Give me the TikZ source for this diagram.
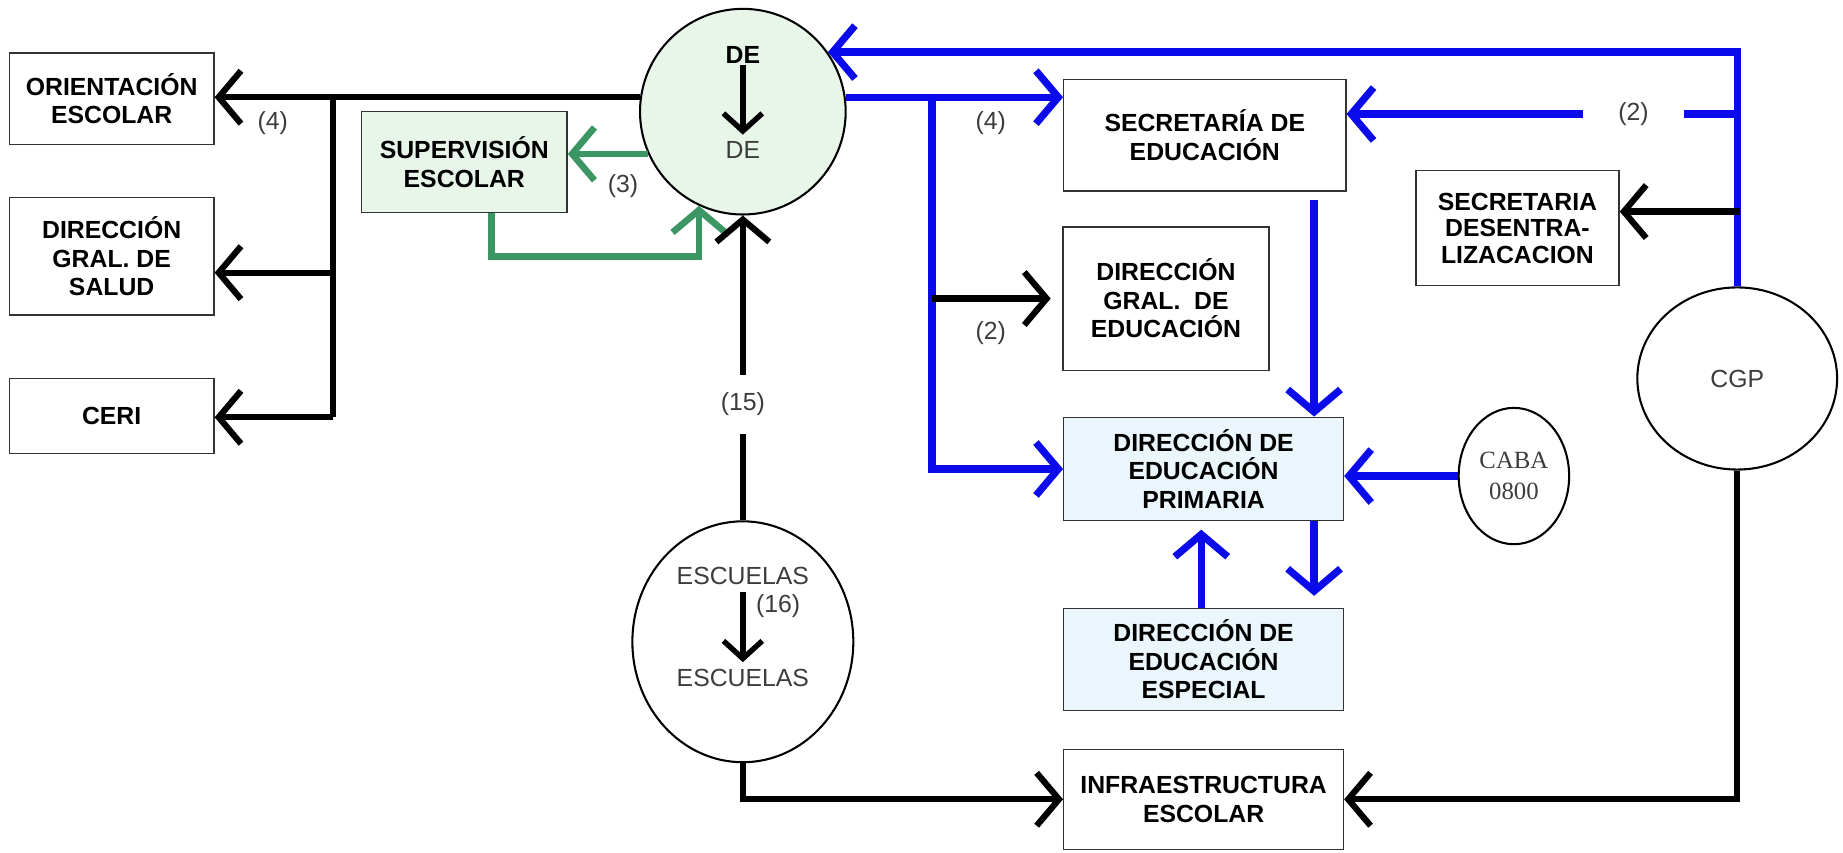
\documentclass[tikz,border=0pt]{standalone}
\usepackage{fontspec}
\setmainfont{Liberation Sans}
\newfontfamily\cabafont{Liberation Serif}
\usetikzlibrary{arrows.meta,shapes.geometric}
\definecolor{azul}{RGB}{10,10,235}
\definecolor{verde}{RGB}{60,150,100}
\definecolor{verdeclaro}{RGB}{232,246,234}
\definecolor{celeste}{RGB}{234,245,252}
\definecolor{gris}{RGB}{60,60,60}

\begin{document}
\begin{tikzpicture}[x=0.02cm,y=-0.02cm,
    caja/.style={draw=black!80,line width=0.7pt,align=center,inner sep=0pt,
      font=\fontsize{12}{13.8}\selectfont\bfseries},
    rotulo/.style={font=\fontsize{12}{13.5}\selectfont,text=gris},
    globo/.style={draw,ellipse,line width=1pt,inner sep=0pt},
    flecha/.style={-{Straight Barb[length=0.38cm,width=0.9cm]}},
    negra/.style={flecha,line width=3pt,black},
    azulada/.style={flecha,line width=3.5pt,azul},
    verdosa/.style={flecha,line width=3.2pt,verde},
    interna/.style={-{Straight Barb[length=0.3cm,width=0.66cm]},line width=2.6pt,black}]
    \useasboundingbox (0,0) rectangle (1568,725);

    \node[caja,minimum width=3.48cm,minimum height=1.56cm] (orient) at (95,84) {ORIENTACIÓN\\ESCOLAR};
    \node[caja,minimum width=3.48cm,minimum height=2cm] (salud) at (95,218) {DIRECCIÓN\\GRAL. DE\\SALUD};
    \node[caja,minimum width=3.48cm,minimum height=1.28cm] (ceri) at (95,354) {CERI};
    \node[caja,fill=verdeclaro,minimum width=3.5cm,minimum height=1.72cm] (superv) at (395,138) {SUPERVISIÓN\\ESCOLAR};
    \node[draw,circle,line width=1pt,fill=verdeclaro,minimum size=3.5cm] (de) at (632,95) {};
    \node[caja,minimum width=4.8cm,minimum height=1.9cm] (secedu) at (1025,115) {SECRETARÍA DE\\EDUCACIÓN};
    \node[caja,minimum width=3.5cm,minimum height=2.44cm] (dgedu) at (992,254) {DIRECCIÓN\\GRAL.\ \ DE\\EDUCACIÓN};
    \node[caja,font=\fontsize{12}{12.8}\selectfont\bfseries,minimum width=3.46cm,minimum height=1.96cm] (secdes) at (1291,194) {SECRETARIA\\DESENTRA-\\LIZACACION};
    \node[globo,rotulo,minimum width=3.4cm,minimum height=3.1cm] (cgp) at (1478,322) {CGP};
    \node[caja,fill=celeste,minimum width=4.76cm,minimum height=1.76cm] (primaria) at (1024,399) {DIRECCIÓN DE\\EDUCACIÓN\\PRIMARIA};
    \node[globo,rotulo,font=\fontsize{12}{15}\cabafont,align=center,minimum width=1.88cm,minimum height=2.32cm] (caba) at (1288,405) {CABA\\0800};
    \node[caja,fill=celeste,minimum width=4.76cm,minimum height=1.74cm] (especial) at (1024,561) {DIRECCIÓN DE\\EDUCACIÓN\\ESPECIAL};
    \node[caja,minimum width=4.76cm,minimum height=1.7cm] (infra) at (1024,680) {INFRAESTRUCTURA\\ESCOLAR};
    \node[globo,minimum width=3.76cm,minimum height=4.1cm] (escuelas) at (632,546) {};

    \node[caja,draw=none] (detop) at (632,47) {DE};
    \node[rotulo] (debot) at (632,128) {DE};
    \draw[interna] (detop) -- (debot);
    \node[rotulo] (esctop) at (632,490) {ESCUELAS};
    \node[rotulo] (escbot) at (632,577) {ESCUELAS};
    \draw[interna] (esctop) -- (escbot);
    \node[rotulo] (l16) at (662,516) {(16)};

    \coordinate (lt) at (283,83);
    \coordinate (lb) at (283,355);
    \draw[negra] (de.172) -- (de.172 -| orient.east);
    \draw[line width=3pt] (lt) -- (lb);
    \draw[negra] (283,232) -- (salud.east |- 283,232);
    \draw[negra] (lb) -- (lb -| ceri.east);
    \node[rotulo] (l4a) at (232,105) {(4)};

    \draw[verdosa] (de.204) -- (de.204 -| superv.east);
    \node[rotulo] (l3) at (530,158) {(3)};
    \coordinate (gv) at (418,218);
    \draw[verdosa] (superv.south -| gv) -- (gv) -| (de.245);

    \draw[negra] (escuelas.north) -- node[rotulo,pos=0.38,fill=white,inner ysep=0.3cm] {(15)} (de.south);

    \coordinate (bt) at (793,83);
    \draw[azulada] (de.8) -- (de.8 -| secedu.west);
    \draw[azulada] (bt) |- (primaria.west);
    \draw[negra] (bt |- dgedu.west) -- ([xshift=-0.2cm]dgedu.west);
    \node[rotulo] (l4b) at (843,105) {(4)};
    \node[rotulo] (l2a) at (843,283) {(2)};

    \draw[azulada] (cgp.north) |- (de.35);
    \coordinate (cs) at (1480,97);
    \draw[azulada] (cs) -- node[rotulo,pos=0.27,fill=white,inner xsep=0.6cm] {(2)} (cs -| secedu.east);
    \coordinate (cr) at (1480,180);
    \draw[negra] (cr) -- (cr -| secdes.east);

    \coordinate (sx) at (1118,0);
    \coordinate (ux) at (1022,0);
    \draw[azulada] ([yshift=-0.14cm]secedu.south -| sx) -- (primaria.north -| sx);
    \draw[azulada] (caba.west) -- (caba.west -| primaria.east);
    \draw[azulada] (primaria.south -| sx) -- ([yshift=0.2cm]especial.north -| sx);
    \draw[azulada] (especial.north -| ux) -- ([yshift=-0.14cm]primaria.south -| ux);

    \draw[negra] (escuelas.south) |- (infra.west);
    \draw[negra] (cgp.south) |- (infra.east);
\end{tikzpicture}
\end{document}
